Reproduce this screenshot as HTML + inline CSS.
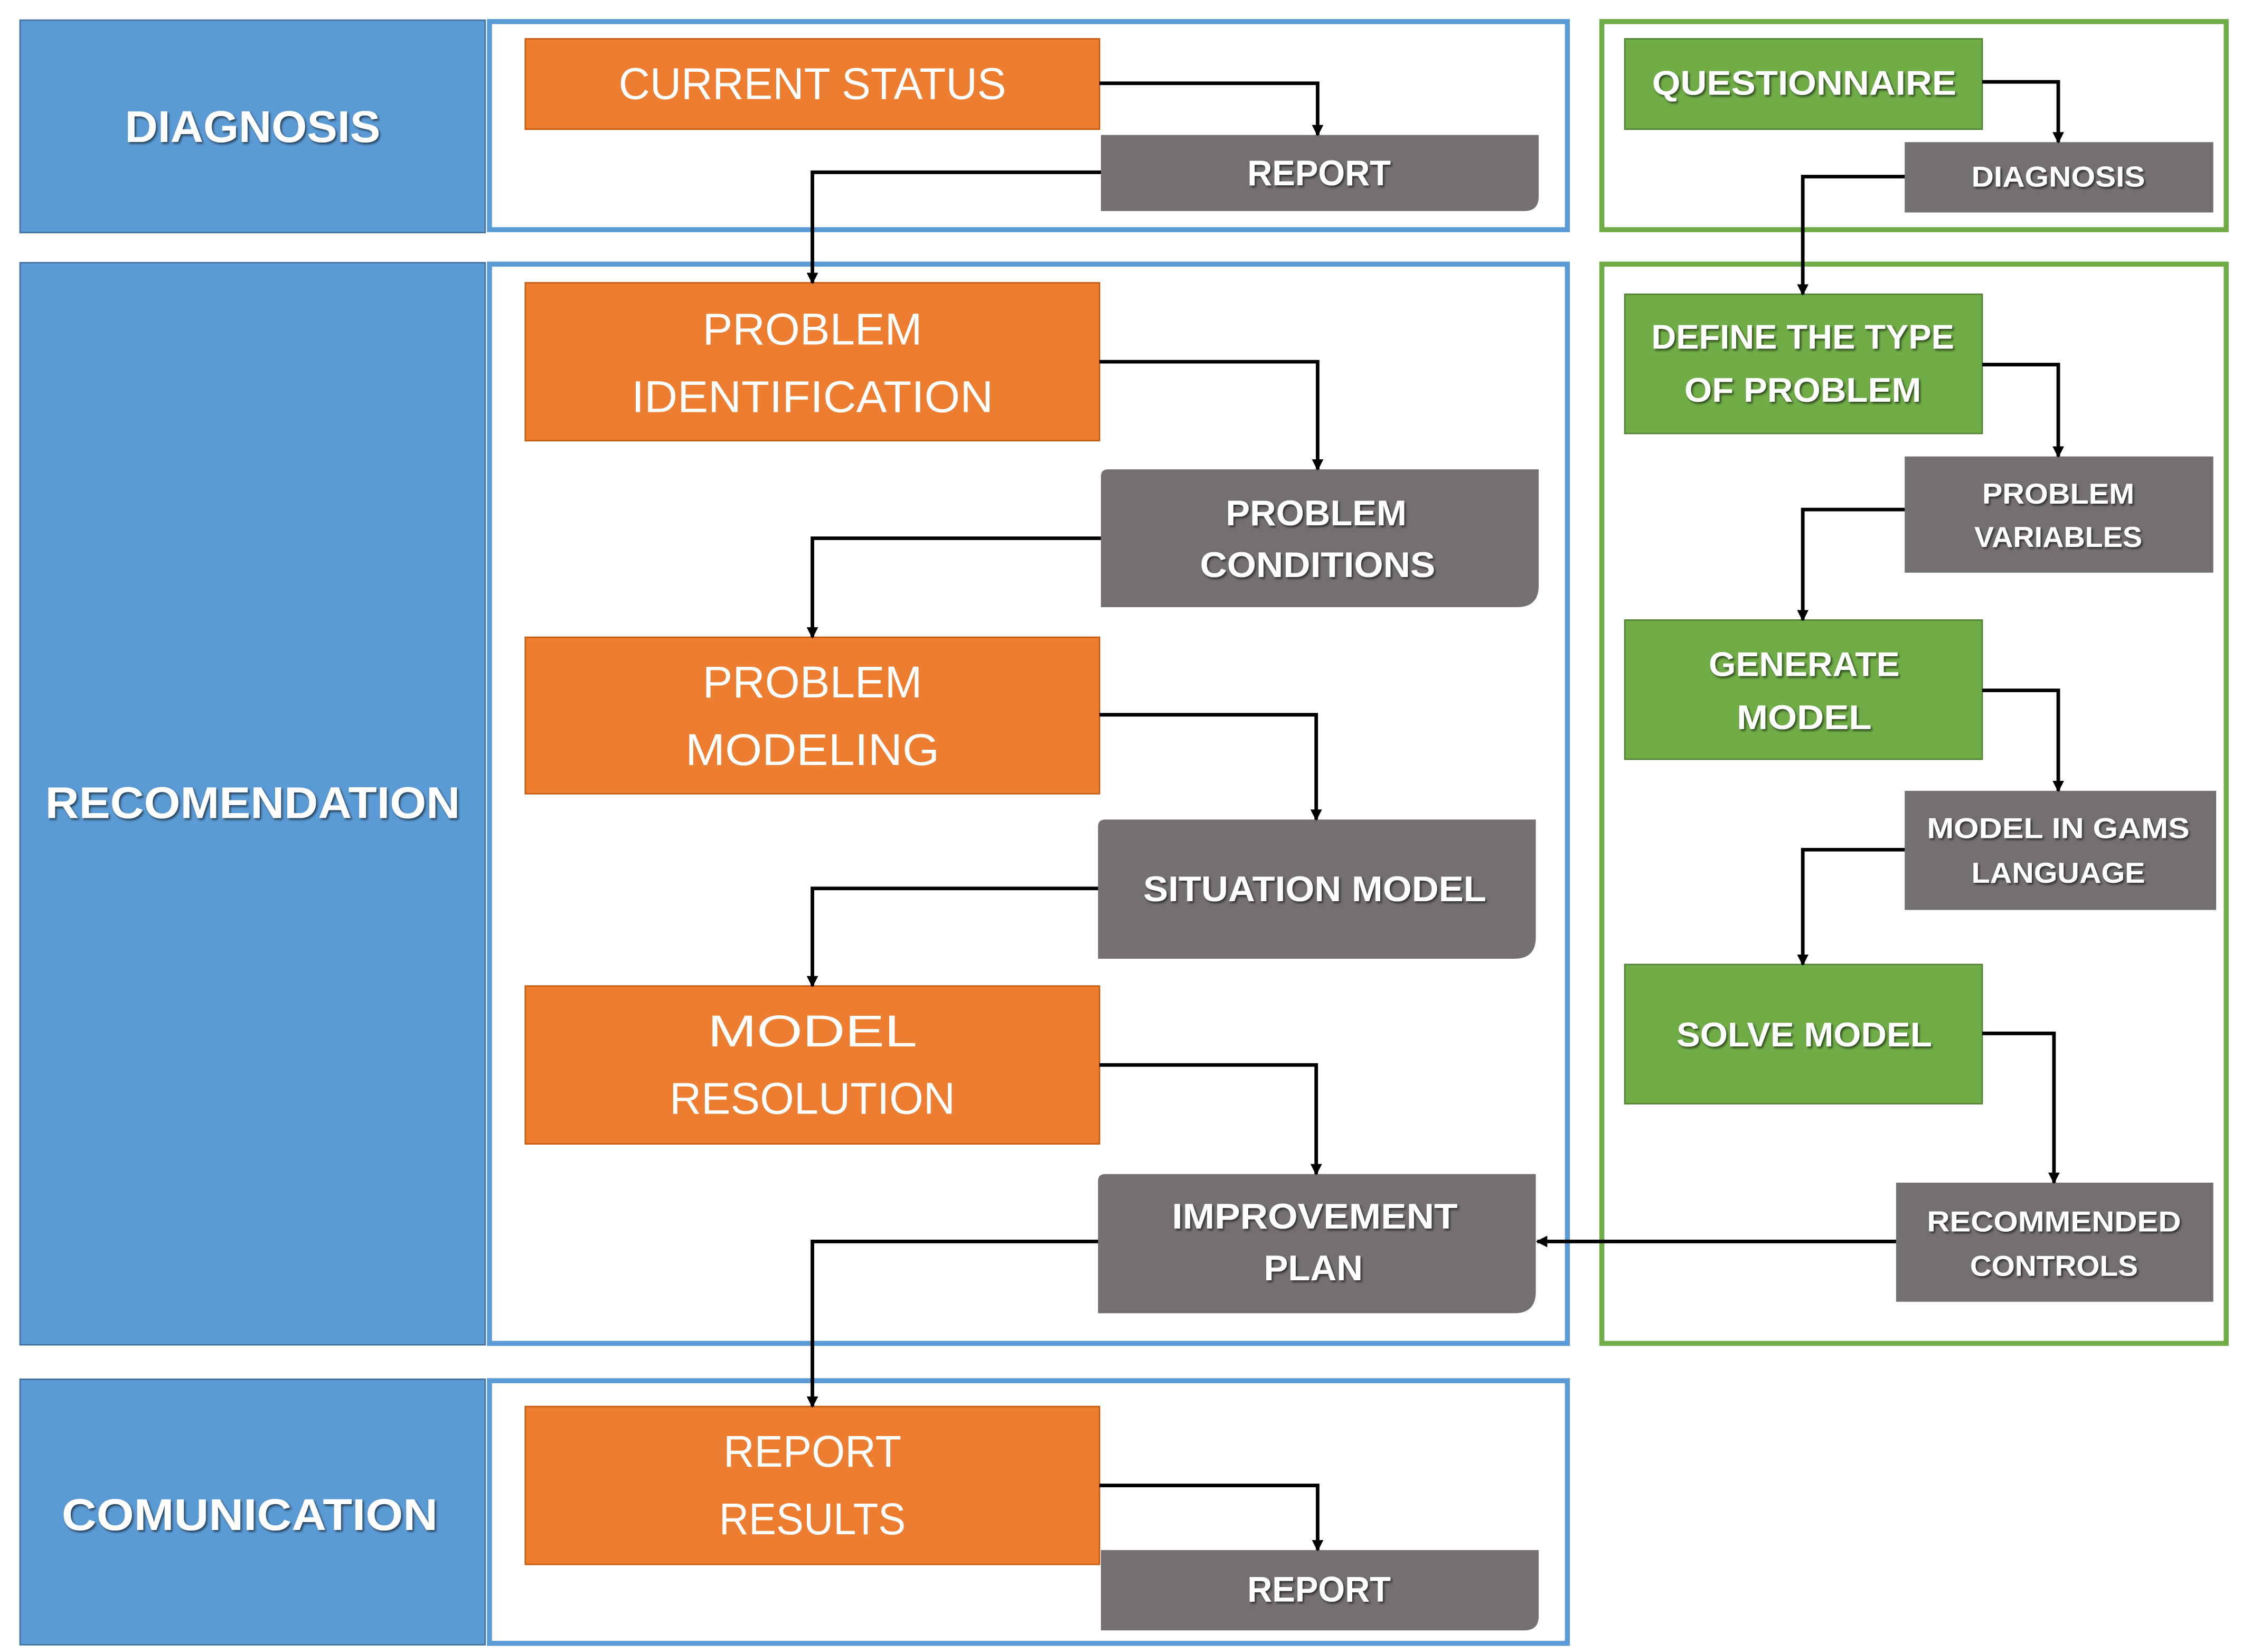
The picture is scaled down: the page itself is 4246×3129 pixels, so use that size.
<!DOCTYPE html>
<html><head><meta charset="utf-8"><style>html,body{margin:0;padding:0;background:#fff}svg{display:block}</style></head>
<body>
<svg xmlns="http://www.w3.org/2000/svg" width="4246" height="3129" viewBox="0 0 1562 1151">
<defs>
<marker id="a" markerWidth="8" markerHeight="8" refX="7" refY="4" orient="auto" markerUnits="userSpaceOnUse"><path d="M0,0 L8,4 L0,8 z" fill="#000"/></marker>
<filter id="s" x="-5%" y="-20%" width="110%" height="140%"><feDropShadow dx="1" dy="1.2" stdDeviation="0.8" flood-color="#000" flood-opacity="0.6"/></filter>
</defs>
<g fill="#5b9bd5" stroke="#41719c" stroke-width="1">
<rect x="14" y="14" width="324" height="148"/>
<rect x="14" y="183" width="324" height="754"/>
<rect x="14" y="961" width="324" height="185"/>
</g>
<g fill="none" stroke="#5b9bd5" stroke-width="3.5">
<rect x="341" y="15" width="751" height="145"/>
<rect x="341" y="184" width="751" height="752"/>
<rect x="341" y="962" width="751" height="183"/>
</g>
<g fill="none" stroke="#70ad47" stroke-width="3.5">
<rect x="1116" y="15" width="435" height="145"/>
<rect x="1116" y="184" width="435" height="752"/>
</g>
<g font-family="Liberation Sans, sans-serif" font-weight="bold" fill="#fff" font-size="31" text-anchor="middle" filter="url(#s)">
<text x="176" y="99" textLength="178" lengthAdjust="spacingAndGlyphs">DIAGNOSIS</text>
<text x="176" y="570" textLength="289" lengthAdjust="spacingAndGlyphs">RECOMENDATION</text>
<text x="174" y="1066" textLength="262" lengthAdjust="spacingAndGlyphs">COMUNICATION</text>
</g>
<g fill="#ed7d31" stroke="#c55a11" stroke-width="1">
<rect x="366" y="27" width="400" height="63"/>
<rect x="366" y="197" width="400" height="110"/>
<rect x="366" y="444" width="400" height="109"/>
<rect x="366" y="687" width="400" height="110"/>
<rect x="366" y="980" width="400" height="110"/>
</g>
<g font-family="Liberation Sans, sans-serif" fill="#fff" font-size="31" text-anchor="middle">
<text x="566" y="69" textLength="270" lengthAdjust="spacingAndGlyphs">CURRENT STATUS</text>
<text x="566" y="240" textLength="153" lengthAdjust="spacingAndGlyphs">PROBLEM</text>
<text x="566" y="287" textLength="252" lengthAdjust="spacingAndGlyphs">IDENTIFICATION</text>
<text x="566" y="486" textLength="153" lengthAdjust="spacingAndGlyphs">PROBLEM</text>
<text x="566" y="533" textLength="177" lengthAdjust="spacingAndGlyphs">MODELING</text>
<text x="566" y="729" textLength="146" lengthAdjust="spacingAndGlyphs">MODEL</text>
<text x="566" y="776" textLength="199" lengthAdjust="spacingAndGlyphs">RESOLUTION</text>
<text x="566" y="1022" textLength="124" lengthAdjust="spacingAndGlyphs">REPORT</text>
<text x="566" y="1069" textLength="130" lengthAdjust="spacingAndGlyphs">RESULTS</text>
</g>
<g fill="#757070">
<path d="M767,94 H1072 V137 Q1072,147 1062,147 H767 Z"/>
<path d="M772,327 H1072 V408 Q1072,423 1057,423 H767 V332 Q767,327 772,327 Z"/>
<path d="M770,571 H1070 V653 Q1070,668 1055,668 H765 V576 Q765,571 770,571 Z"/>
<path d="M770,818 H1070 V900 Q1070,915 1055,915 H765 V823 Q765,818 770,818 Z"/>
<path d="M767,1080 H1072 V1126 Q1072,1136 1062,1136 H767 Z"/>
<rect x="1327" y="99" width="215" height="49"/>
<rect x="1327" y="318" width="215" height="81"/>
<rect x="1327" y="551" width="217" height="83"/>
<rect x="1321" y="824" width="221" height="83"/>
</g>
<g fill="#70ad47" stroke="#548235" stroke-width="1">
<rect x="1132" y="27" width="249" height="63"/>
<rect x="1132" y="205" width="249" height="97"/>
<rect x="1132" y="432" width="249" height="97"/>
<rect x="1132" y="672" width="249" height="97"/>
</g>
<g font-family="Liberation Sans, sans-serif" font-weight="bold" fill="#fff" font-size="25" text-anchor="middle" filter="url(#s)">
<text x="919" y="129" textLength="100" lengthAdjust="spacingAndGlyphs">REPORT</text>
<text x="917" y="366" textLength="126" lengthAdjust="spacingAndGlyphs">PROBLEM</text>
<text x="918" y="402" textLength="164" lengthAdjust="spacingAndGlyphs">CONDITIONS</text>
<text x="916" y="628" textLength="239" lengthAdjust="spacingAndGlyphs">SITUATION MODEL</text>
<text x="916" y="856" textLength="199" lengthAdjust="spacingAndGlyphs">IMPROVEMENT</text>
<text x="915" y="892" textLength="69" lengthAdjust="spacingAndGlyphs">PLAN</text>
<text x="919" y="1116" textLength="100" lengthAdjust="spacingAndGlyphs">REPORT</text>
</g>
<g font-family="Liberation Sans, sans-serif" font-weight="bold" fill="#fff" font-size="24" text-anchor="middle" filter="url(#s)">
<text x="1257" y="66" textLength="212" lengthAdjust="spacingAndGlyphs">QUESTIONNAIRE</text>
<text x="1256" y="243" textLength="211" lengthAdjust="spacingAndGlyphs">DEFINE THE TYPE</text>
<text x="1256" y="280" textLength="165" lengthAdjust="spacingAndGlyphs">OF PROBLEM</text>
<text x="1257" y="471" textLength="133" lengthAdjust="spacingAndGlyphs">GENERATE</text>
<text x="1257" y="508" textLength="94" lengthAdjust="spacingAndGlyphs">MODEL</text>
<text x="1257" y="729" textLength="178" lengthAdjust="spacingAndGlyphs">SOLVE MODEL</text>
</g>
<g font-family="Liberation Sans, sans-serif" font-weight="bold" fill="#fff" font-size="20" text-anchor="middle" filter="url(#s)">
<text x="1434" y="130" textLength="121" lengthAdjust="spacingAndGlyphs">DIAGNOSIS</text>
<text x="1434" y="351" textLength="106" lengthAdjust="spacingAndGlyphs">PROBLEM</text>
<text x="1434" y="381" textLength="117" lengthAdjust="spacingAndGlyphs">VARIABLES</text>
<text x="1434" y="584" textLength="183" lengthAdjust="spacingAndGlyphs">MODEL IN GAMS</text>
<text x="1434" y="615" textLength="121" lengthAdjust="spacingAndGlyphs">LANGUAGE</text>
<text x="1431" y="858" textLength="177" lengthAdjust="spacingAndGlyphs">RECOMMENDED</text>
<text x="1431" y="889" textLength="117" lengthAdjust="spacingAndGlyphs">CONTROLS</text>
</g>
<g fill="none" stroke="#000" stroke-width="2.5" marker-end="url(#a)">
<path d="M766,58 H918 V94"/>
<path d="M767,120 H566 V197"/>
<path d="M766,252 H918 V327"/>
<path d="M767,375 H566 V444"/>
<path d="M766,498 H917 V571"/>
<path d="M765,619 H566 V687"/>
<path d="M766,742 H917 V818"/>
<path d="M765,865 H566 V980"/>
<path d="M766,1035 H918 V1080"/>
<path d="M1381,57 H1434 V99"/>
<path d="M1327,123 H1256 V205"/>
<path d="M1381,254 H1434 V318"/>
<path d="M1327,355 H1256 V432"/>
<path d="M1381,481 H1434 V551"/>
<path d="M1327,592 H1256 V672"/>
<path d="M1381,720 H1431 V824"/>
<path d="M1321,865 H1071"/>
</g>
</svg>
</body></html>
